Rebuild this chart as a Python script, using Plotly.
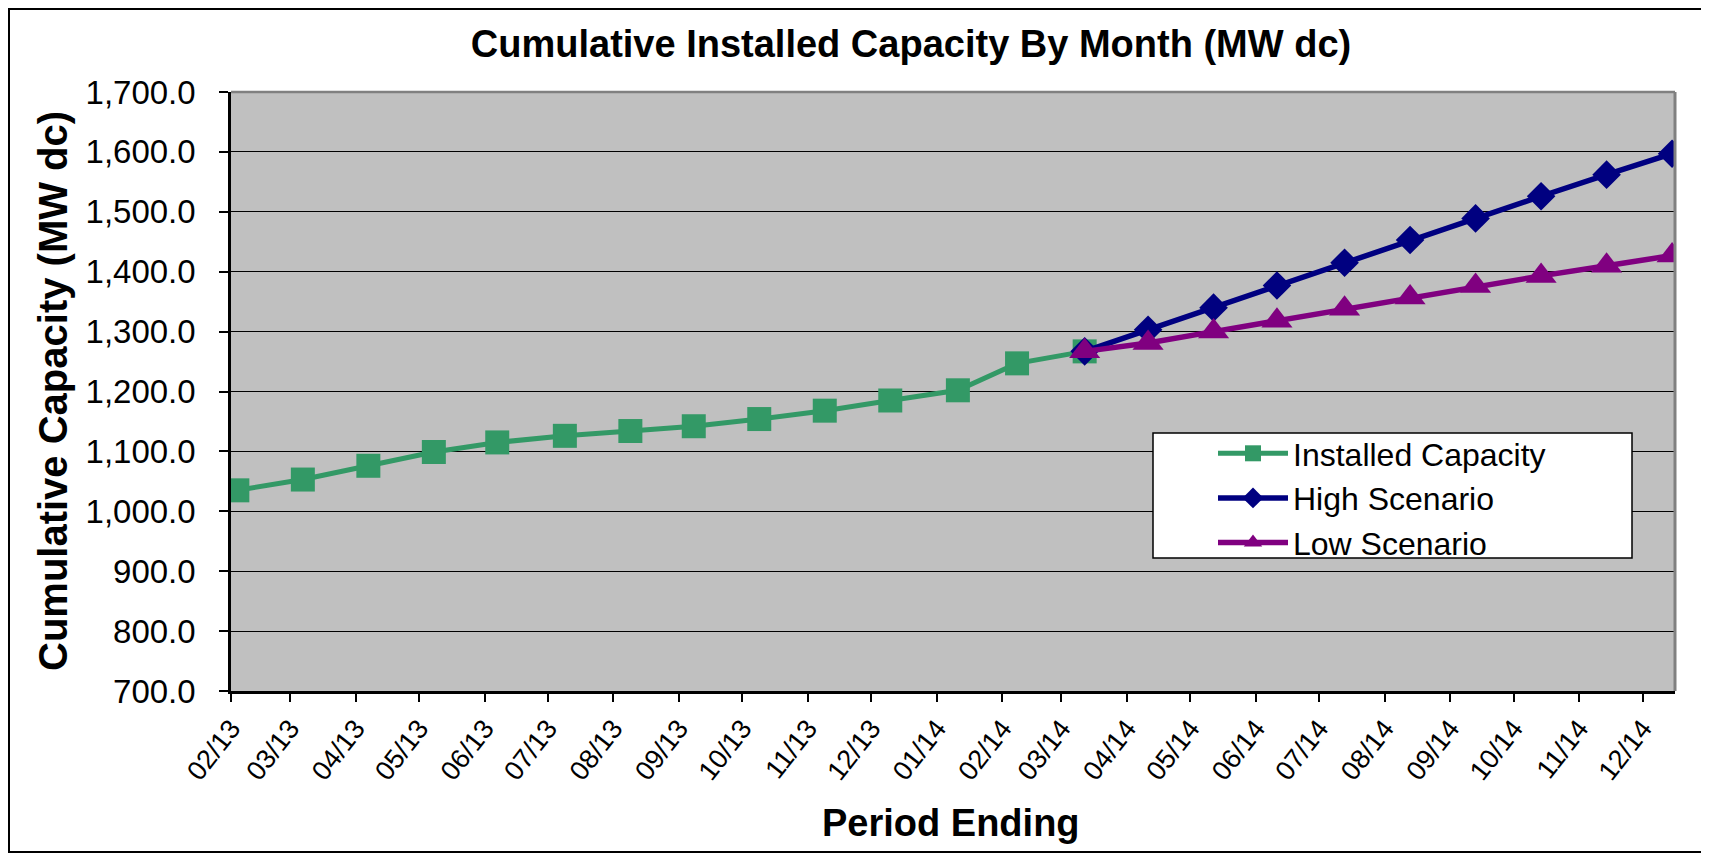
import plotly.graph_objects as go

# ---- data ----
dates = ["2013-02-04", "2013-03-07", "2013-04-07", "2013-05-08", "2013-06-07",
         "2013-07-09", "2013-08-09", "2013-09-08", "2013-10-09", "2013-11-09",
         "2013-12-10", "2014-01-11", "2014-02-08", "2014-03-12", "2014-04-11",
         "2014-05-12", "2014-06-11", "2014-07-13", "2014-08-13", "2014-09-13",
         "2014-10-14", "2014-11-14", "2014-12-15"]
installed = [1035, 1053, 1076, 1099, 1115, 1126, 1134, 1142, 1154, 1168,
             1185, 1202, 1247, 1267]
high = [1267, 1303, 1340, 1377, 1415, 1453, 1489, 1526, 1562, 1597]
low = [1267, 1281, 1300, 1318, 1338, 1357, 1376, 1393, 1410, 1427]
y_ticks = [700, 800, 900, 1000, 1100, 1200, 1300, 1400, 1500, 1600, 1700]

installed_dates = dates[:len(installed)]
scenario_dates = dates[len(installed) - 1:]

FONT = "Arial, Liberation Sans, sans-serif"
OFF = 8                      # page body margin
W, H = 1709 - OFF, 854 - OFF
# plot area in page px
L, R, T, B = 231, 1675, 92, 691


def px(x):
    return (x - L) / (R - L)


def py(y):
    return (B - y) / (B - T)


fig = go.Figure()
fig.add_trace(go.Scatter(x=installed_dates, y=installed, name="Installed Capacity",
                         mode="lines+markers",
                         line=dict(color="#339966", width=5),
                         marker=dict(symbol="square", size=24, color="#339966")))
fig.add_trace(go.Scatter(x=scenario_dates, y=high, name="High Scenario",
                         mode="lines+markers",
                         line=dict(color="#000080", width=5.5),
                         marker=dict(symbol="diamond", size=22, color="#000080")))
fig.add_trace(go.Scatter(x=scenario_dates, y=low, name="Low Scenario",
                         mode="lines+markers",
                         line=dict(color="#800080", width=5.5),
                         marker=dict(symbol="triangle-up", size=27, color="#800080")))

fig.update_layout(
    width=W, height=H,
    margin=dict(l=L - OFF, r=1709 - R, t=T - OFF, b=854 - B),
    paper_bgcolor="white",
    plot_bgcolor="#C0C0C0",
    font=dict(family=FONT, color="black"),
    title=dict(text="<b>Cumulative Installed Capacity By Month (MW dc)</b>",
               x=(911 - OFF) / W, xref="container", xanchor="center",
               y=1 - (44 - OFF) / H, yref="container", yanchor="middle",
               font=dict(size=38, family=FONT, color="black")),
    showlegend=True,
    legend=dict(x=px(1213), y=py(426), xanchor="left", yanchor="top",
                bgcolor="rgba(0,0,0,0)", borderwidth=0,
                font=dict(size=32, family=FONT, color="black"),
                itemwidth=70, tracegroupgap=0),
)

fig.update_xaxes(
    type="date",
    range=["2013-02-01", "2014-12-16 09:00"],
    tick0="2013-02-01", dtick="M1", tickformat="%m/%y",
    tickangle=-52,
    tickfont=dict(size=27, family=FONT, color="black"),
    ticks="outside", ticklen=8, tickwidth=1.5, tickcolor="black",
    showgrid=False, zeroline=False,
    showline=True, linecolor="black", linewidth=2.5,
    mirror=False,
)
fig.update_yaxes(
    range=[700, 1700],
    tickvals=y_ticks,
    ticktext=[f"{v:,.1f}" for v in y_ticks],
    tickfont=dict(size=33, family=FONT, color="black"),
    ticks="outside", ticklen=9, tickwidth=1.5, tickcolor="black",
    ticklabelstandoff=17,
    showgrid=True, gridcolor="black", gridwidth=1.3,
    zeroline=False,
    showline=True, linecolor="black", linewidth=2.5,
)

# plot-area border (grey, Excel style) on top & right
fig.add_shape(type="line", xref="paper", yref="paper", x0=0, x1=1, y0=1, y1=1,
              line=dict(color="#808080", width=2.5), layer="below")
fig.add_shape(type="line", xref="paper", yref="paper", x0=1, x1=1, y0=0, y1=1,
              line=dict(color="#808080", width=3), layer="above")

# legend box
fig.add_shape(type="rect", xref="paper", yref="paper",
              x0=px(1153), x1=px(1632), y0=py(558), y1=py(433),
              fillcolor="white", line=dict(color="black", width=1.5), layer="above")

# outer chart border
fig.add_shape(type="rect", xref="paper", yref="paper",
              x0=px(9), x1=px(1705), y0=py(852), y1=py(9),
              line=dict(color="black", width=2), fillcolor="rgba(0,0,0,0)")

# axis titles
fig.add_annotation(text="<b>Cumulative Capacity (MW dc)</b>", xref="paper", yref="paper",
                   x=px(53), y=py(391), textangle=-90, showarrow=False,
                   xanchor="center", yanchor="middle",
                   font=dict(size=40, family=FONT, color="black"))
fig.add_annotation(text="<b>Period Ending</b>", xref="paper", yref="paper",
                   x=px(951), y=py(823), showarrow=False,
                   xanchor="center", yanchor="middle",
                   font=dict(size=38, family=FONT, color="black"))

fig.write_html("out.html")
